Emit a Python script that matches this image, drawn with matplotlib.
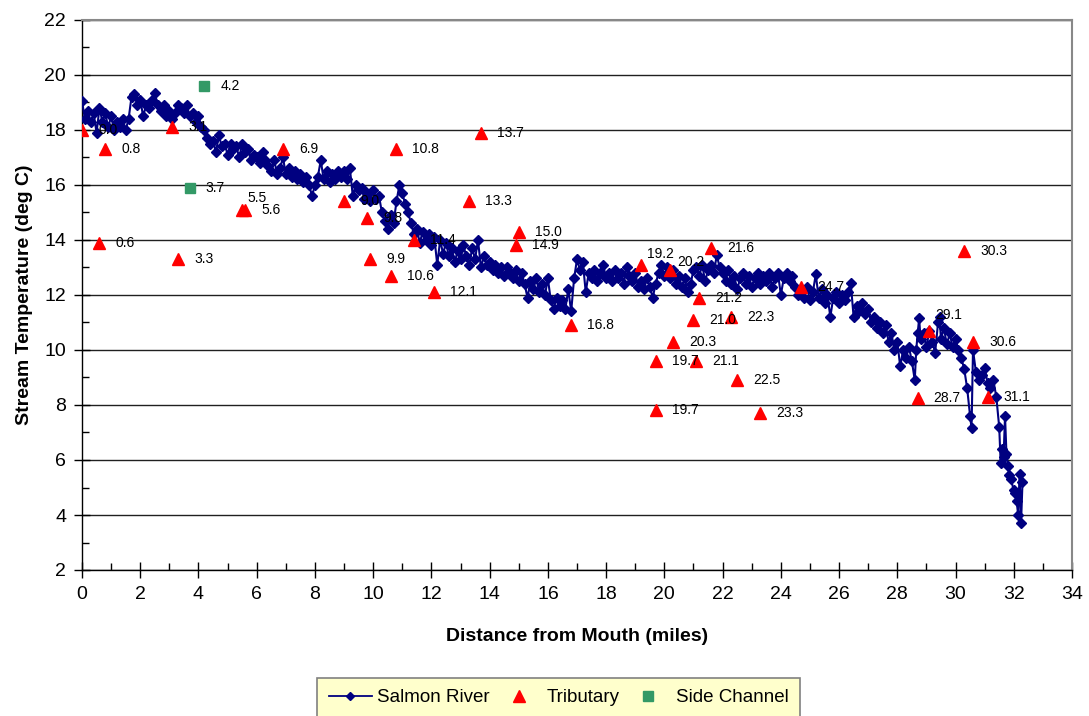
import matplotlib
matplotlib.use("Agg")
import matplotlib.pyplot as plt
from matplotlib.ticker import MultipleLocator
from matplotlib.lines import Line2D

plt.rcParams['font.family'] = ['Liberation Sans', 'DejaVu Sans']

# ---------------- data ----------------
river_mile = [
    0.0, 0.1, 0.2, 0.3, 0.4, 0.5, 0.6, 0.7, 0.8, 0.9,
    1.0, 1.1, 1.2, 1.3, 1.4, 1.5, 1.6, 1.7, 1.8, 1.9,
    2.0, 2.1, 2.2, 2.3, 2.4, 2.5, 2.6, 2.7, 2.8, 2.9,
    3.0, 3.1, 3.2, 3.3, 3.4, 3.5, 3.6, 3.7, 3.8, 3.9,
    4.0, 4.1, 4.2, 4.3, 4.4, 4.5, 4.6, 4.7, 4.8, 4.9,
    5.0, 5.1, 5.2, 5.3, 5.4, 5.5, 5.6, 5.7, 5.8, 5.9,
    6.0, 6.1, 6.2, 6.3, 6.4, 6.5, 6.6, 6.7, 6.8, 6.9,
    7.0, 7.1, 7.2, 7.3, 7.4, 7.5, 7.6, 7.7, 7.8, 7.9,
    8.0, 8.1, 8.2, 8.3, 8.4, 8.5, 8.6, 8.7, 8.8, 8.9,
    9.0, 9.1, 9.2, 9.3, 9.4, 9.5, 9.6, 9.7, 9.8, 9.9,
    10.0, 10.1, 10.2, 10.3, 10.4, 10.5, 10.6, 10.7, 10.8, 10.9,
    11.0, 11.1, 11.2, 11.3, 11.4, 11.5, 11.6, 11.7, 11.8, 11.9,
    12.0, 12.1, 12.2, 12.3, 12.4, 12.5, 12.6, 12.7, 12.8, 12.9,
    13.0, 13.1, 13.2, 13.3, 13.4, 13.5, 13.6, 13.7, 13.8, 13.9,
    14.0, 14.1, 14.2, 14.3, 14.4, 14.5, 14.6, 14.7, 14.8, 14.9,
    15.0, 15.1, 15.2, 15.3, 15.4, 15.5, 15.6, 15.7, 15.8, 15.9,
    16.0, 16.1, 16.2, 16.3, 16.4, 16.5, 16.6, 16.7, 16.8, 16.9,
    17.0, 17.1, 17.2, 17.3, 17.4, 17.5, 17.6, 17.7, 17.8, 17.9,
    18.0, 18.1, 18.2, 18.3, 18.4, 18.5, 18.6, 18.7, 18.8, 18.9,
    19.0, 19.1, 19.2, 19.3, 19.4, 19.5, 19.6, 19.7, 19.8, 19.9,
    20.0, 20.1, 20.2, 20.3, 20.4, 20.5, 20.6, 20.7, 20.8, 20.9,
    21.0, 21.1, 21.2, 21.3, 21.4, 21.5, 21.6, 21.7, 21.8, 21.9,
    22.0, 22.1, 22.2, 22.3, 22.4, 22.5, 22.6, 22.7, 22.8, 22.9,
    23.0, 23.1, 23.2, 23.3, 23.4, 23.5, 23.6, 23.7, 23.8, 23.9,
    24.0, 24.1, 24.2, 24.3, 24.4, 24.5, 24.6, 24.7, 24.8, 24.9,
    25.0, 25.1, 25.2, 25.3, 25.4, 25.5, 25.6, 25.7, 25.8, 25.9,
    26.0, 26.1, 26.2, 26.3, 26.4, 26.5, 26.6, 26.7, 26.8, 26.9,
    27.0, 27.1, 27.2, 27.3, 27.4, 27.5, 27.6, 27.7, 27.8, 27.9,
    28.0, 28.1, 28.2, 28.3, 28.4, 28.5, 28.6, 28.65, 28.7, 28.75,
    28.8, 28.9, 29.0, 29.1, 29.2, 29.3, 29.4, 29.45, 29.5, 29.6,
    29.7, 29.8, 29.9, 30.0, 30.1, 30.2, 30.3, 30.4, 30.5, 30.55,
    30.6, 30.7, 30.8, 30.9, 31.0, 31.1, 31.2, 31.3, 31.4, 31.5,
    31.55, 31.6, 31.65, 31.7, 31.75, 31.8, 31.85, 31.9, 32.0, 32.05,
    32.1, 32.15, 32.2, 32.25, 32.3,
]
river_temp = [
    19.05, 18.4, 18.7, 18.3, 18.6, 17.9, 18.8, 18.3, 18.6, 18.1,
    18.5, 18.0, 18.3, 18.1, 18.4, 18.0, 18.4, 19.2, 19.3, 18.9,
    19.1, 18.5, 18.9, 18.8, 19.1, 19.35, 18.9, 18.7, 18.9, 18.5,
    18.7, 18.4, 18.6, 18.9, 18.8, 18.6, 18.9, 18.5, 18.6, 18.3,
    18.5, 18.1, 18.0, 17.7, 17.5, 17.6, 17.2, 17.8, 17.4, 17.5,
    17.1, 17.5, 17.3, 17.4, 17.0, 17.5, 17.2, 17.3, 16.9, 17.1,
    17.0, 16.8, 17.2, 16.9, 16.7, 16.5, 16.9, 16.4, 16.6, 17.0,
    16.4, 16.6, 16.3, 16.5, 16.2, 16.4, 16.1, 16.3, 16.0, 15.6,
    16.0, 16.3, 16.9, 16.2, 16.5, 16.1, 16.4, 16.2, 16.5, 16.3,
    16.5, 16.2, 16.6, 15.6, 16.0, 15.8, 15.9, 15.5, 15.7, 15.4,
    15.8, 15.5, 15.6, 15.0, 14.7, 14.4, 14.9, 14.6, 15.4, 16.0,
    15.7, 15.3, 15.0, 14.6, 14.2, 14.4, 13.9, 14.3, 14.0, 14.2,
    13.8, 14.1, 13.1, 14.0, 13.5, 13.9, 13.4, 13.7, 13.2, 13.6,
    13.3, 13.8, 13.4, 13.1, 13.7, 13.3, 14.0, 13.0, 13.4, 13.1,
    13.2, 12.9, 13.1, 12.8, 13.0, 12.7, 13.0, 12.8, 12.6, 12.9,
    12.5, 12.8, 12.4, 11.9, 12.5, 12.2, 12.6, 12.1, 12.4, 12.0,
    12.6, 11.8, 11.5, 11.9, 11.6, 11.8, 11.5, 12.2, 11.4, 12.6,
    13.3, 12.9, 13.2, 12.1, 12.8, 12.6, 12.9, 12.5, 12.8, 13.1,
    12.6, 12.8, 12.5, 12.9, 12.6, 12.8, 12.4, 13.0, 12.7, 12.5,
    12.8, 12.3, 12.5, 12.2, 12.6, 12.3, 11.9, 12.4, 12.8, 13.1,
    12.7, 13.0, 12.6, 12.9, 12.4, 12.7, 12.3, 12.6, 12.1, 12.4,
    12.9, 13.0, 12.7, 13.1, 12.5, 12.9, 13.1, 12.8, 13.45, 13.0,
    12.8, 12.5, 12.9, 12.4, 12.7, 12.2, 12.6, 12.8, 12.4, 12.7,
    12.3, 12.6, 12.8, 12.4, 12.7, 12.5, 12.8, 12.3, 12.6, 12.8,
    12.0, 12.6, 12.8, 12.5, 12.7, 12.3, 12.0, 12.2, 11.9, 12.3,
    11.8, 12.1, 12.75, 11.9, 12.2, 11.7, 12.0, 11.2, 11.9, 12.1,
    11.7, 12.0, 11.8, 12.1, 12.45, 11.2, 11.6, 11.4, 11.7, 11.3,
    11.5, 11.0, 11.2, 10.8, 11.0, 10.6, 10.9, 10.3, 10.6, 10.0,
    10.3, 9.4, 10.0, 9.7, 10.1, 9.6, 8.9, 10.0, 10.6, 11.15,
    10.4, 10.6, 10.1, 10.7, 10.3, 9.9, 11.0, 11.2, 10.4, 10.8,
    10.2, 10.6, 10.1, 10.4, 10.0, 9.7, 9.3, 8.6, 7.6, 7.15,
    10.0, 9.2, 8.9, 9.1, 9.35, 8.8, 8.6, 8.9, 8.3, 7.2,
    5.9, 6.4, 6.1, 7.6, 6.2, 5.8, 5.45, 5.3, 4.9, 4.8,
    4.5, 4.0, 5.5, 3.7, 5.2,
]

trib_mile = [0.0, 0.6, 0.8, 3.1, 3.3, 5.5, 5.6, 6.9, 9.0, 9.8, 9.9, 10.6,
             10.8, 11.4, 12.1, 13.3, 13.7, 14.9, 15.0, 16.8, 19.2, 19.7,
             19.7, 20.2, 20.3, 21.0, 21.1, 21.2, 21.6, 22.3, 22.5, 23.3,
             24.7, 28.7, 29.1, 30.3, 30.6, 31.1]
trib_temp = [18.0, 13.9, 17.3, 18.1, 13.3, 15.1, 15.1, 17.3, 15.4, 14.8, 13.3, 12.7,
             17.3, 14.0, 12.1, 15.4, 17.9, 13.8, 14.3, 10.9, 13.1, 9.6,
             7.8, 12.9, 10.3, 11.1, 9.6, 11.9, 13.7, 11.2, 8.9, 7.7,
             12.3, 8.25, 10.7, 13.6, 10.3, 8.3]
trib_labels = ['0.0', '0.6', '0.8', '3.1', '3.3', '5.5', '5.6', '6.9', '9.0', '9.8',
               '9.9', '10.6', '10.8', '11.4', '12.1', '13.3', '13.7', '14.9', '15.0',
               '16.8', '19.2', '19.7', '19.7', '20.2', '20.3', '21.0', '21.1', '21.2',
               '21.6', '22.3', '22.5', '23.3', '24.7', '28.7', '29.1', '30.3', '30.6',
               '31.1']

side_mile = [3.7, 4.2]
side_temp = [15.9, 19.6]
side_labels = ['3.7', '4.2']

series_names = ['Salmon River', 'Tributary', 'Side Channel']

# ---------------- figure ----------------
W, H = 1089, 716
fig = plt.figure(figsize=(W / 100, H / 100), dpi=100)
ax = fig.add_axes([82 / W, 1 - 570 / H, (1072 - 82) / W, (570 - 20) / H])

ax.set_xlim(0, 34)
ax.set_ylim(2, 22)
ax.xaxis.set_major_locator(MultipleLocator(2))
ax.xaxis.set_minor_locator(MultipleLocator(1))
ax.yaxis.set_major_locator(MultipleLocator(2))
ax.yaxis.set_minor_locator(MultipleLocator(1))

ax.grid(axis='y', which='major', color='#202020', linewidth=1.0)
ax.set_axisbelow(True)

for s in ['top', 'right']:
    ax.spines[s].set_color('#888888')
    ax.spines[s].set_linewidth(1.5)
for s in ['left', 'bottom']:
    ax.spines[s].set_color('black')
    ax.spines[s].set_linewidth(1.0)

ax.tick_params(axis='both', which='major', direction='inout', length=11,
               width=1.0, labelsize=14, pad=6)
ax.tick_params(axis='both', which='minor', direction='in', length=5, width=1.0)

ax.plot(river_mile, river_temp, color='#000080', linewidth=1.5, marker='D',
        markersize=5.2, markerfacecolor='#000080', markeredgecolor='#000080',
        zorder=3)
ax.plot(trib_mile, trib_temp, linestyle='none', marker='^', markersize=8.5,
        color='#FF0000', zorder=4)
ax.plot(side_mile, side_temp, linestyle='none', marker='s', markersize=7,
        color='#339966', zorder=4)

# label offsets in pixels (dx, dy); default right of the marker
special = {'5.5': (5, 12), '19.2': (6, 11), '20.2': (7, 8), '29.1': (6, 16)}
for xv, yv, lab in list(zip(trib_mile, trib_temp, trib_labels)) + \
        list(zip(side_mile, side_temp, side_labels)):
    dx, dy = special.get(lab, (16, 0))
    ax.annotate(lab, (xv, yv), xytext=(dx * 0.72, dy * 0.72),
                textcoords='offset points', fontsize=10, ha='left',
                va='center', color='black', zorder=6)

ax.set_xlabel('Distance from Mouth (miles)', fontsize=14, fontweight='bold',
              labelpad=18)
ax.set_ylabel('Stream Temperature (deg C)', fontsize=14, fontweight='bold',
              labelpad=8)

handles = [
    Line2D([], [], color='#000080', linewidth=1.3, marker='D', markersize=4.0),
    Line2D([], [], linestyle='none', color='#FF0000', marker='^', markersize=8.5),
    Line2D([], [], linestyle='none', color='#339966', marker='s', markersize=7),
]
leg = fig.legend(handles, series_names, loc='upper center',
                 bbox_to_anchor=(558.5 / W, 1 - 678 / H), ncol=3,
                 fontsize=13.5, frameon=True, fancybox=False,
                 facecolor='#FFFFCC', edgecolor='#808080', framealpha=1,
                 handlelength=2.3, columnspacing=0.4, handletextpad=0.3,
                 borderpad=0.6, borderaxespad=0)
leg.get_frame().set_linewidth(1.2)

fig.savefig('out.png', dpi=100)
